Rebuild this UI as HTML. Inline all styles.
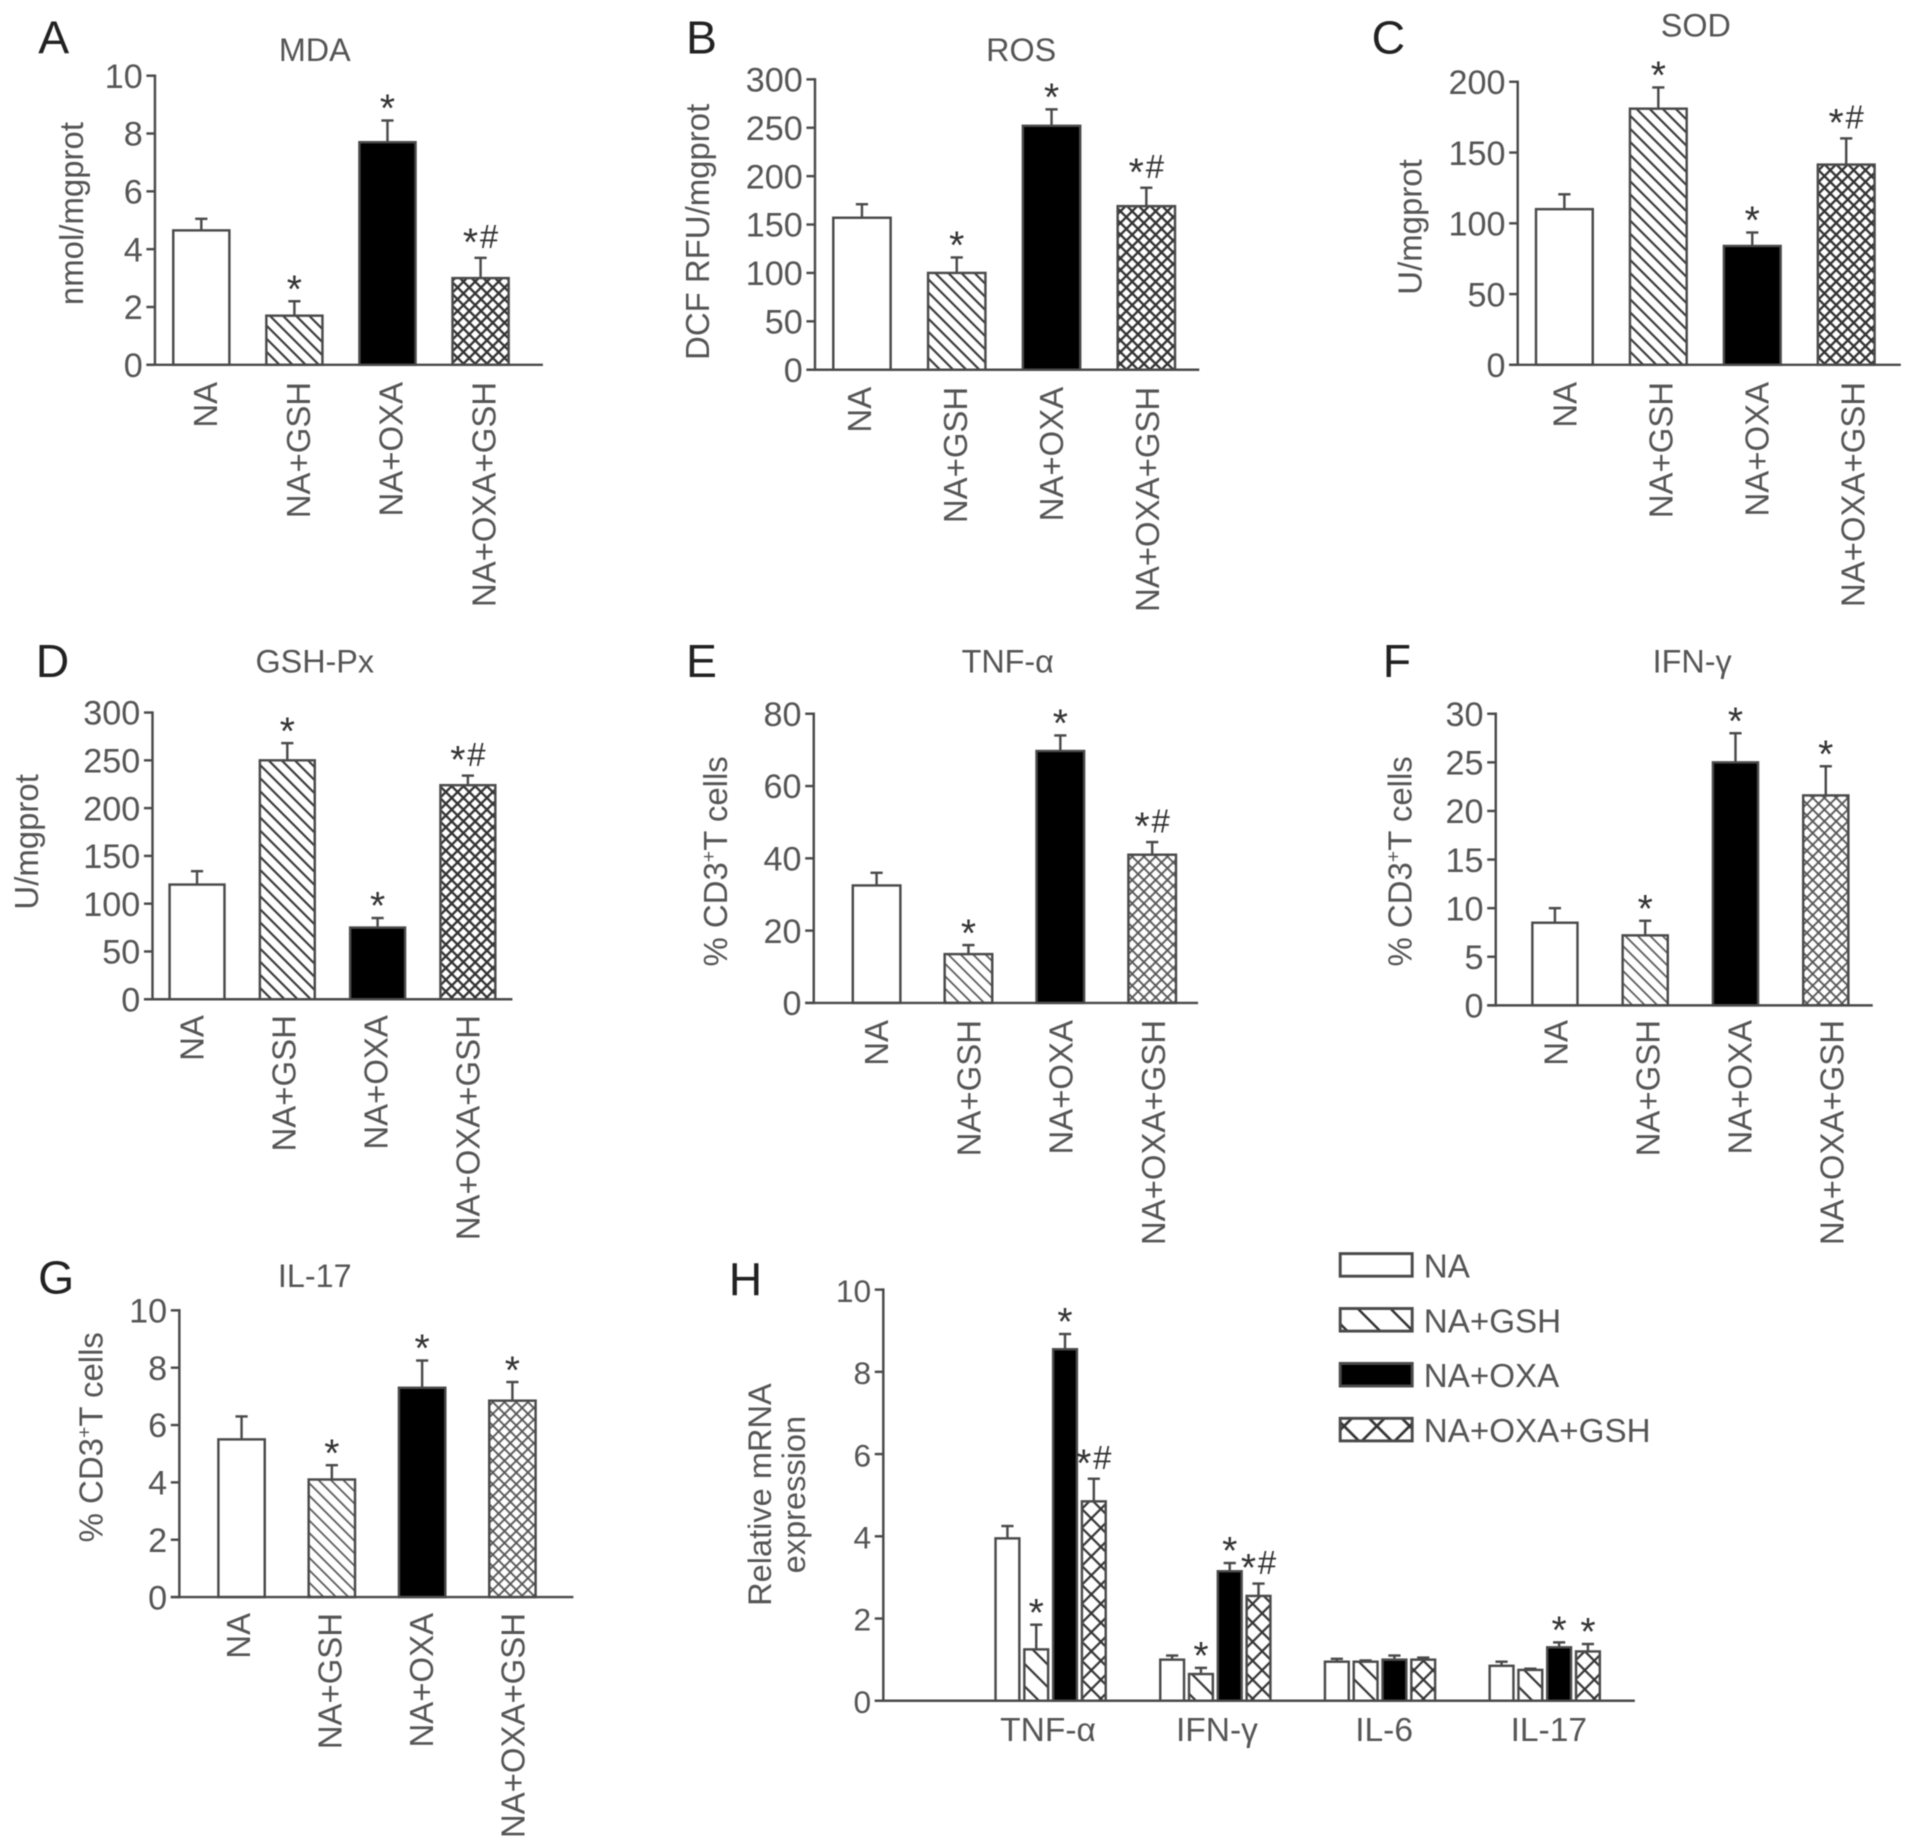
<!DOCTYPE html>
<html lang="en">
<head>
<meta charset="utf-8">
<title>Oxidative stress and cytokine bar charts</title>
<style>
html,body{margin:0;padding:0;background:#fff;width:1913px;height:1846px;overflow:hidden}
svg{display:block;filter:blur(0.45px)}
text{font-family:"Liberation Sans",sans-serif;fill:#555}
</style>
</head>
<body>
<svg id="figure" xmlns="http://www.w3.org/2000/svg" width="1913" height="1846" viewBox="0 0 1568 1513">
<defs>
<pattern id="hatch" patternUnits="userSpaceOnUse" width="7.6" height="7.6" patternTransform="rotate(45)"><line x1="0" y1="3.8" x2="7.6" y2="3.8" stroke="#333" stroke-width="1.7"/></pattern>
<pattern id="cross" patternUnits="userSpaceOnUse" width="6.8" height="6.8" patternTransform="rotate(45)"><line x1="0" y1="3.4" x2="6.8" y2="3.4" stroke="#333" stroke-width="1.9"/><line x1="3.4" y1="0" x2="3.4" y2="6.8" stroke="#333" stroke-width="1.9"/></pattern>
<pattern id="hatchFine" patternUnits="userSpaceOnUse" width="7.2" height="7.2" patternTransform="rotate(45)"><line x1="0" y1="3.6" x2="7.2" y2="3.6" stroke="#555" stroke-width="1.4"/></pattern>
<pattern id="crossFine" patternUnits="userSpaceOnUse" width="6.8" height="6.8" patternTransform="rotate(45)"><line x1="0" y1="3.4" x2="6.8" y2="3.4" stroke="#555" stroke-width="1.5"/><line x1="3.4" y1="0" x2="3.4" y2="6.8" stroke="#555" stroke-width="1.5"/></pattern>
<pattern id="hatchWide" patternUnits="userSpaceOnUse" width="13" height="13" patternTransform="rotate(45)"><line x1="0" y1="6.5" x2="13" y2="6.5" stroke="#333" stroke-width="1.8"/></pattern>
<pattern id="crossWide" patternUnits="userSpaceOnUse" width="11" height="11" patternTransform="rotate(45)"><line x1="0" y1="5.5" x2="11" y2="5.5" stroke="#333" stroke-width="1.8"/><line x1="5.5" y1="0" x2="5.5" y2="11" stroke="#333" stroke-width="1.8"/></pattern>
<pattern id="hatchLegend" patternUnits="userSpaceOnUse" width="19" height="19" patternTransform="rotate(45)"><line x1="0" y1="9.5" x2="19" y2="9.5" stroke="#333" stroke-width="2"/></pattern>
<pattern id="crossLegend" patternUnits="userSpaceOnUse" width="19" height="19" patternTransform="rotate(45)"><line x1="0" y1="9.5" x2="19" y2="9.5" stroke="#333" stroke-width="2.2"/><line x1="9.5" y1="0" x2="9.5" y2="19" stroke="#333" stroke-width="2.2"/></pattern>
</defs>
</svg>
<script>
/* Shared categories */
const treatments = ['NA', 'NA+GSH', 'NA+OXA', 'NA+OXA+GSH'];
const genes = ['TNF-α', 'IFN-γ', 'IL-6', 'IL-17'];

/* A: MDA */
const mdaValues = [4.65, 1.7, 7.7, 3.0];
const mdaErrorTops = [5.05, 2.2, 8.45, 3.7];
const mdaMarks = ['', '*', '*', '*#'];
const mdaTicks = [0, 2, 4, 6, 8, 10];

/* B: ROS */
const rosValues = [157, 100, 252, 169];
const rosErrorTops = [171, 116, 269, 188];
const rosMarks = ['', '*', '*', '*#'];
const rosTicks = [0, 50, 100, 150, 200, 250, 300];

/* C: SOD */
const sodValues = [110, 181, 84, 141.5];
const sodErrorTops = [120.5, 196, 93.5, 160];
const sodMarks = ['', '*', '*', '*#'];
const sodTicks = [0, 50, 100, 150, 200];

/* D: GSH-Px */
const gpxValues = [120, 250, 75, 224];
const gpxErrorTops = [134, 268, 85, 234];
const gpxMarks = ['', '*', '*', '*#'];
const gpxTicks = [0, 50, 100, 150, 200, 250, 300];

/* E: TNF-alpha */
const tnfValues = [32.5, 13.5, 69.7, 41];
const tnfErrorTops = [36, 16, 74, 44.5];
const tnfMarks = ['', '*', '*', '*#'];
const tnfTicks = [0, 20, 40, 60, 80];

/* F: IFN-gamma */
const ifnValues = [8.5, 7.2, 25, 21.6];
const ifnErrorTops = [10, 8.7, 28, 24.6];
const ifnMarks = ['', '*', '*', '*'];
const ifnTicks = [0, 5, 10, 15, 20, 25, 30];

/* G: IL-17 */
const il17Values = [5.5, 4.1, 7.3, 6.85];
const il17ErrorTops = [6.3, 4.6, 8.25, 7.5];
const il17Marks = ['', '*', '*', '*'];
const il17Ticks = [0, 2, 4, 6, 8, 10];

/* H: relative mRNA expression, one row per gene, one column per treatment */
const mrnaTnfValues = [3.95, 1.25, 8.55, 4.85];
const mrnaTnfErrorTops = [4.25, 1.85, 8.92, 5.4];
const mrnaTnfMarks = ['', '*', '*', '*#'];
const mrnaIfnValues = [1.0, 0.65, 3.15, 2.55];
const mrnaIfnErrorTops = [1.1, 0.8, 3.35, 2.85];
const mrnaIfnMarks = ['', '*', '*', '*#'];
const mrnaIl6Values = [0.95, 0.95, 1.0, 1.0];
const mrnaIl6ErrorTops = [1.02, 0.98, 1.1, 1.05];
const mrnaIl6Marks = ['', '', '', ''];
const mrnaIl17Values = [0.85, 0.75, 1.3, 1.2];
const mrnaIl17ErrorTops = [0.95, 0.78, 1.42, 1.38];
const mrnaIl17Marks = ['', '', '*', '*'];
const mrnaTicks = [0, 2, 4, 6, 8, 10];

const svg = document.getElementById('figure');
const NS = 'http://www.w3.org/2000/svg';
const AXIS = '#4a4a4a';

function mk(tag, attrs, parent, text) {
  const node = document.createElementNS(NS, tag);
  for (const k in attrs) node.setAttribute(k, attrs[k]);
  if (text !== undefined) node.textContent = text;
  parent.appendChild(node);
  return node;
}

function fillFor(i, style) {
  if (i === 0) return '#fff';
  if (i === 2) return '#000';
  const suffix = style === 'fine' ? 'Fine' : style === 'wide' ? 'Wide' : '';
  return 'url(#' + (i === 1 ? 'hatch' : 'cross') + suffix + ')';
}

function drawAxes(g, id, L) {
  let el = mk('line', {x1: L.axisX, y1: L.yTop - 1, x2: L.axisX, y2: L.y0 + 1, stroke: AXIS, 'stroke-width': 2}, g);
  
  
  el = mk('line', {x1: L.axisX - 7, y1: L.y0, x2: L.axisEnd, y2: L.y0, stroke: AXIS, 'stroke-width': 2}, g);
  
  
}

function drawTicks(g, id, ticks, yScale, L) {
  ticks.forEach(function (t) {
    const y = yScale(t);
    let el = mk('line', {x1: L.axisX - 7, y1: y, x2: L.axisX, y2: y, stroke: AXIS, 'stroke-width': 2}, g);
    
    
    el = mk('text', {x: L.axisX - 10, y: y + 10, 'text-anchor': 'end', 'font-size': L.tickSize || 28}, g, String(t));
    
    
  });
}

function drawMark(g, id, i, cx, topY, mark) {
  if (!mark) return;
  const el = mk('text', {x: cx, y: mark.length > 1 ? topY - 2 : topY + 1, 'text-anchor': 'middle', style: 'fill:#333'}, g);
  
  
  mk('tspan', {'font-size': 32}, el, mark[0]);
  if (mark.length > 1) {
    mk('tspan', {dx: 1.5, dy: -6, 'font-size': 27}, el, mark.slice(1));
  }
}

function drawBar(g, id, i, left, width, value, errTop, mark, yScale, L, style) {
  const cx = left + width / 2;
  const top = yScale(value);
  const et = yScale(errTop);
  const cap = L.cap || 5;
  let el = mk('line', {x1: cx, y1: top, x2: cx, y2: et, stroke: AXIS, 'stroke-width': 2}, g);
  
  
  el = mk('line', {x1: cx - cap, y1: et, x2: cx + cap, y2: et, stroke: AXIS, 'stroke-width': 2}, g);
  
  
  mk('rect', {x: left, y: top, width: width, height: L.y0 - top, fill: '#fff'}, g);
  el = mk('rect', {x: left, y: top, width: width, height: L.y0 - top, fill: fillFor(i, style), stroke: AXIS, 'stroke-width': 2}, g);
  
  
  drawMark(g, id, i, cx, et, mark);
}

function drawPanel(p, L) {
  const g = mk('g', {}, svg);
  
  
  const yScale = function (v) { return L.y0 - (v / p.yMax) * (L.y0 - L.yTop); };
  const xBar = function (i) { return L.barLeft + i * L.pitch; };

  let el = mk('text', {x: L.letterX, y: L.letterY, 'text-anchor': 'middle', 'font-size': 38, style: 'fill:#222'}, g, p.letter);
  
  
  el = mk('text', {x: L.titleX, y: L.titleY, 'text-anchor': 'middle', 'font-size': 26.5}, g, p.title);
  
  

  el = mk('text', {transform: 'translate(' + L.ylabelX + ',' + L.ylabelY + ') rotate(-90)', 'text-anchor': 'middle', 'font-size': 27}, g);
  
  
  if (p.cd3) {
    mk('tspan', {}, el, '% CD3');
    mk('tspan', {dy: -10, 'font-size': 16}, el, '+');
    mk('tspan', {dy: 10}, el, 'T cells');
  } else {
    el.textContent = p.ylabel;
  }

  drawTicks(g, p.id, p.ticks, yScale, L);

  p.values.forEach(function (v, i) {
    drawBar(g, p.id, i, xBar(i), L.barW, v, p.errs[i], p.marks[i], yScale, L, L.style);
    const lx = L.labelX + i * L.labelPitch + 10;
    const lab = mk('text', {transform: 'translate(' + lx + ',' + L.labelY + ') rotate(-90)', 'text-anchor': 'end', 'font-size': 27}, g, treatments[i]);
    
    
  });

  drawAxes(g, p.id, L);
}

drawPanel({id: 'mda', letter: 'A', title: 'MDA', ylabel: 'nmol/mgprot', yMax: 10, ticks: mdaTicks, values: mdaValues, errs: mdaErrorTops, marks: mdaMarks},
  {axisX: 127, axisEnd: 445, y0: 299, yTop: 62, barLeft: 142, pitch: 76.3, barW: 46, letterX: 44, letterY: 44, titleX: 258, titleY: 50, ylabelX: 68, ylabelY: 175, labelX: 168, labelPitch: 76, labelY: 313});
drawPanel({id: 'ros', letter: 'B', title: 'ROS', ylabel: 'DCF RFU/mgprot', yMax: 300, ticks: rosTicks, values: rosValues, errs: rosErrorTops, marks: rosMarks},
  {axisX: 668, axisEnd: 983, y0: 303, yTop: 65, barLeft: 683, pitch: 77.7, barW: 47, letterX: 575, letterY: 44, titleX: 837, titleY: 50, ylabelX: 581, ylabelY: 190, labelX: 704, labelPitch: 78.6, labelY: 317});
drawPanel({id: 'sod', letter: 'C', title: 'SOD', ylabel: 'U/mgprot', yMax: 200, ticks: sodTicks, values: sodValues, errs: sodErrorTops, marks: sodMarks},
  {axisX: 1244, axisEnd: 1558, y0: 299, yTop: 67, barLeft: 1259, pitch: 77, barW: 46.5, letterX: 1138, letterY: 44, titleX: 1390, titleY: 30, ylabelX: 1165, ylabelY: 186, labelX: 1282, labelPitch: 78.7, labelY: 313});
drawPanel({id: 'gsh-px', letter: 'D', title: 'GSH-Px', ylabel: 'U/mgprot', yMax: 300, ticks: gpxTicks, values: gpxValues, errs: gpxErrorTops, marks: gpxMarks},
  {axisX: 125, axisEnd: 420, y0: 819, yTop: 584, barLeft: 139, pitch: 74, barW: 45, letterX: 43, letterY: 555, titleX: 258, titleY: 551, ylabelX: 31, ylabelY: 690, labelX: 157, labelPitch: 75.3, labelY: 832});
drawPanel({id: 'tnf', letter: 'E', title: 'TNF-α', cd3: true, yMax: 80, ticks: tnfTicks, values: tnfValues, errs: tnfErrorTops, marks: tnfMarks},
  {axisX: 667, axisEnd: 982, y0: 822, yTop: 585, barLeft: 699, pitch: 75.3, barW: 39, letterX: 575, letterY: 555, titleX: 826, titleY: 551, ylabelX: 596, ylabelY: 706, labelX: 718, labelPitch: 75.6, labelY: 836, style: 'fine'});
drawPanel({id: 'ifn', letter: 'F', title: 'IFN-γ', cd3: true, yMax: 30, ticks: ifnTicks, values: ifnValues, errs: ifnErrorTops, marks: ifnMarks},
  {axisX: 1226, axisEnd: 1535, y0: 824, yTop: 585, barLeft: 1256, pitch: 74, barW: 37, letterX: 1145, letterY: 555, titleX: 1387, titleY: 551, ylabelX: 1157, ylabelY: 706, labelX: 1275, labelPitch: 75.3, labelY: 836, style: 'fine'});
drawPanel({id: 'il17', letter: 'G', title: 'IL-17', cd3: true, yMax: 10, ticks: il17Ticks, values: il17Values, errs: il17ErrorTops, marks: il17Marks},
  {axisX: 147, axisEnd: 470, y0: 1309, yTop: 1074, barLeft: 179, pitch: 74, barW: 38, letterX: 46, letterY: 1060, titleX: 258, titleY: 1055, ylabelX: 84, ylabelY: 1178, labelX: 195, labelPitch: 75, labelY: 1322, style: 'fine'});

/* Panel H: grouped bars */
(function () {
  const L = {axisX: 724, axisEnd: 1340, y0: 1394, yTop: 1057, cap: 5, tickSize: 26};
  const yMax = 10;
  const groupStart = 816, groupPitch = 135, barPitch = 23.6, barW = 19.5;
  const yScale = function (v) { return L.y0 - (v / yMax) * (L.y0 - L.yTop); };
  const groupValues = [mrnaTnfValues, mrnaIfnValues, mrnaIl6Values, mrnaIl17Values];
  const groupErrors = [mrnaTnfErrorTops, mrnaIfnErrorTops, mrnaIl6ErrorTops, mrnaIl17ErrorTops];
  const groupMarks = [mrnaTnfMarks, mrnaIfnMarks, mrnaIl6Marks, mrnaIl17Marks];

  const g = mk('g', {}, svg);
  
  

  let el = mk('text', {x: 611, y: 1062, 'text-anchor': 'middle', 'font-size': 38, style: 'fill:#222'}, g, 'H');
  
  
  el = mk('text', {transform: 'translate(632,1225) rotate(-90)', 'text-anchor': 'middle', 'font-size': 26.7}, g, 'Relative mRNA');
  
  
  el = mk('text', {transform: 'translate(660,1225) rotate(-90)', 'text-anchor': 'middle', 'font-size': 26.7}, g, 'expression');
  
  

  drawTicks(g, 'mrna', mrnaTicks, yScale, L);

  genes.forEach(function (name, gi) {
    const left = groupStart + gi * groupPitch;
    groupValues[gi].forEach(function (v, i) {
      drawBar(g, 'mrna-' + gi, i, left + i * barPitch, barW, v, groupErrors[gi][i], groupMarks[gi][i], yScale, L, 'wide');
    });
    const labelOffset = gi === 0 ? 43 : gi === 1 ? 46.5 : 48.5;
    const lab = mk('text', {x: left + labelOffset, y: 1427, 'text-anchor': 'middle', 'font-size': 27.5}, g, name);
    
    
  });

  drawAxes(g, 'mrna', L);

  const legend = mk('g', {}, svg);
  
  
  const legendFills = ['#fff', 'url(#hatchLegend)', '#000', 'url(#crossLegend)'];
  treatments.forEach(function (name, i) {
    const y = 1027.5 + i * 45;
    const box = mk('rect', {x: 1098.5, y: y, width: 59, height: 18.5, fill: legendFills[i], stroke: AXIS, 'stroke-width': 2.4}, legend);
    
    
    const txt = mk('text', {x: 1167, y: y + 19.5, 'font-size': 27.2}, legend, name);
    
    
  });
})();
</script>
</body>
</html>
